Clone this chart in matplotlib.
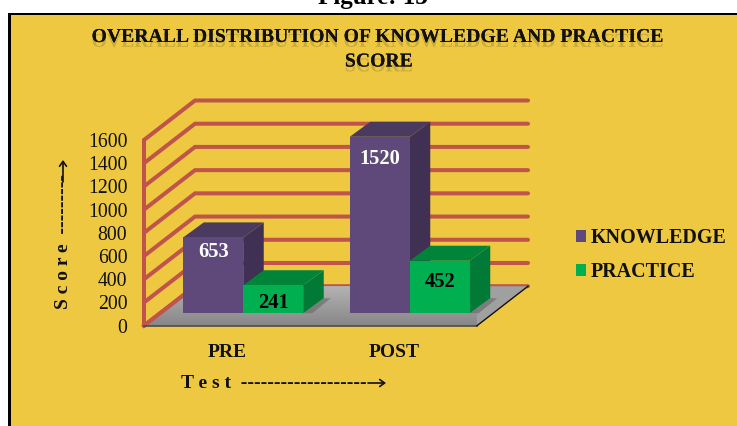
import matplotlib
matplotlib.use("Agg")
import matplotlib.pyplot as plt
from matplotlib.patches import Polygon, Rectangle
from matplotlib import patheffects as pe
import numpy as np

categories = ["PRE", "POST"]
knowledge = [653, 1520]
practice = [241, 452]
y_ticks = [0, 200, 400, 600, 800, 1000, 1200, 1400, 1600]

W, H = 737, 426
SERIF = ["Liberation Serif", "DejaVu Sans"]
BG, RED = "#EDC840", "#C0544C"
KN = ("#5F497A", "#4A3A60", "#3F3054")
PR = ("#00B050", "#00843A", "#007A36")

fig = plt.figure(figsize=(W / 100, H / 100), dpi=100, facecolor="white")
fig.add_artist(Rectangle((7.5 / W, 0), (W - 7.5) / W, (H - 12.5) / H, transform=fig.transFigure,
                         fc="black", ec="none", zorder=-5))
fig.add_artist(Rectangle((11 / W, 0), (W - 11) / W, (H - 14.5) / H, transform=fig.transFigure,
                         fc=BG, ec="none", zorder=-4))
fig.text(373 / W, (H - 4) / H, "Figure: 13", family=SERIF, weight="bold", fontsize=18,
         ha="center", va="baseline", color="black")

AX_L, AX_R, AX_B, AX_T = 144, 477, 325.7, 140
ax = fig.add_axes([AX_L / W, (H - AX_B) / H, (AX_R - AX_L) / W, (AX_B - AX_T) / H])
ax.patch.set_visible(False)
ax.set_xlim(-0.5, 1.5)
ax.set_ylim(0, 1600)
PX = 2 / (AX_R - AX_L)
PY = 1600 / (AX_B - AX_T)
DX, DY = 51 * PX, 39.5 * PY          # wall depth
BDX, BDY = 20.5 * PX, 15 * PY        # bar depth
IX, IY = 16 * PX, 12.5 * PY          # bar inset on the floor
BW = 60 * PX


def poly(pts, **kw):
    p = Polygon(pts, closed=True, clip_on=False, **kw)
    ax.add_patch(p)
    return p


# back wall and left wall
x0, x1 = ax.get_xlim()
for v in y_ticks:
    ax.plot([x0, x0 + DX, x1 + DX], [v, v + DY, v + DY], color=RED, lw=2.9,
            solid_capstyle="round", solid_joinstyle="miter", clip_on=False, zorder=1)
ax.plot([x0, x0], [0, 1600], color=RED, lw=2.9, clip_on=False, zorder=1, solid_capstyle="round")

# floor
floor = [(x0, 0), (x1, 0), (x1 + DX, DY), (x0 + DX, DY)]
fp = poly(floor, fc="#A0A0A0", ec="none", zorder=2)
grad = np.linspace(0.70, 0.53, 64).reshape(-1, 1)
im = ax.imshow(grad, cmap="gray", vmin=0, vmax=1, aspect="auto", origin="upper",
               extent=(x0, x1 + DX, 0, DY), zorder=2.1)
im.set_clip_on(True)
im.set_clip_path(fp)
ax.set_xlim(x0, x1)
ax.set_ylim(0, 1600)
ax.plot([x0, x0 + DX], [0, DY], color=RED, lw=2.9, clip_on=False, zorder=2.15)
ax.plot([x0, x1], [0, 0], color="#4A4A4A", lw=1.2, clip_on=False, zorder=2.2)
ax.plot([x1, x1 + DX], [0, DY], color="#111111", lw=1.0, clip_on=False, zorder=2.2)

# bars
xpos = np.arange(len(categories), dtype=float)
z = 3.0
for i in range(len(categories)):
    for j, (series, cols, name, off) in enumerate(
            ((knowledge, KN, "KNOWLEDGE", -1), (practice, PR, "PRACTICE", 0))):
        left = xpos[i] + off * BW + IX
        v = series[i]
        if j == 1:
            right = left + BW
            poly([(right, IY), (right + 9 * PX, IY), (right + BDX + 7 * PX, IY + BDY),
                  (right + BDX, IY + BDY)], fc="#6E6E6E", ec="none", alpha=0.7, zorder=z)
        poly([(left + BW, IY), (left + BW + BDX, IY + BDY), (left + BW + BDX, v + IY + BDY),
              (left + BW, v + IY)], fc=cols[2], ec="none", zorder=z + .1)
        poly([(left, v + IY), (left + BW, v + IY), (left + BW + BDX, v + IY + BDY),
              (left + BDX, v + IY + BDY)], fc=cols[1], ec="none", zorder=z + .1)
        ax.bar(left, v, width=BW, bottom=IY, align="edge", color=cols[0], zorder=z + .2,
               clip_on=False, label=name if i == 0 else None)
        z += 1

label_gap_px = {(0, 0): 15, (1, 0): 22, (0, 1): 18, (1, 1): 21}
for i in range(len(categories)):
    for j, (series, off, col) in enumerate(((knowledge, -1, "white"), (practice, 0, "black"))):
        ax.text(xpos[i] + off * BW + IX + BW / 2,
                series[i] + IY - label_gap_px[(i, j)] * PY, str(series[i]),
                color=col, family=SERIF, weight="bold", fontsize=14.8,
                ha="center", va="center", zorder=50, clip_on=False)

# axes furniture
for s in ax.spines.values():
    s.set_visible(False)
ax.set_yticks(y_ticks)
ax.set_yticklabels([str(t) for t in y_ticks], family=SERIF, fontsize=14.2, color="#111111")
ax.set_xticks(xpos)
ax.set_xticklabels(categories, family=SERIF, weight="bold", fontsize=14, color="#111111")
ax.tick_params(axis="both", length=0)
ax.tick_params(axis="y", pad=12)
ax.tick_params(axis="x", pad=13)

reflect = [pe.withSimplePatchShadow(offset=(0, -3.5), shadow_rgbFace="#7a6a30", alpha=0.3), pe.Normal()]
for txt, xc, yc in (("OVERALL DISTRIBUTION OF KNOWLEDGE AND PRACTICE", 378.5, 37), ("SCORE", 379, 61.5)):
    fig.text(xc / W, (H - yc) / H, txt, family=SERIF, weight="bold", fontsize=14.2,
             ha="center", va="center", color="#111111", path_effects=reflect)

fig.text(181 / W, (H - 383) / H, "T e s t  -------------------", family=SERIF, weight="bold",
         fontsize=14, ha="left", va="center", color="#111111")
fig.text(63 / W, (H - 309) / H, "S c o r e  ---------", family=SERIF, weight="bold",
         fontsize=14, rotation=90, ha="center", va="bottom", color="#111111")
arrow = dict(arrowstyle="->,head_length=0.35,head_width=0.25", color="#111111", lw=1.2,
             shrinkA=0, shrinkB=0)
ax.annotate("", xy=(386, H - 383), xytext=(368, H - 383), xycoords="figure pixels",
            textcoords="figure pixels", arrowprops=arrow, annotation_clip=False)
ax.annotate("", xy=(63, H - 160), xytext=(63, H - 182), xycoords="figure pixels",
            textcoords="figure pixels", arrowprops=arrow, annotation_clip=False)

leg = ax.legend(loc="center left", bbox_to_anchor=(575.5 / W, (H - 255) / H),
                bbox_transform=fig.transFigure, frameon=False, handlelength=0.5,
                handleheight=0.5, handletextpad=0.28, labelspacing=0.7, borderpad=0,
                borderaxespad=0, prop={"family": SERIF, "weight": "bold", "size": 14.4})
for t in leg.get_texts():
    t.set_color("#111111")

fig.savefig("out.png", dpi=100, facecolor="white")
